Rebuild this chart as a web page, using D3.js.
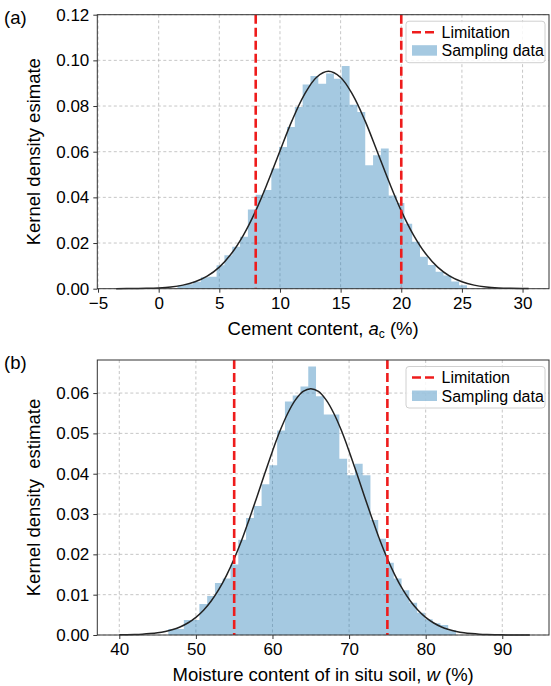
<!DOCTYPE html>
<html>
<head>
<meta charset="utf-8">
<script src="https://cdn.jsdelivr.net/npm/d3@7"></script>
<style>
  body { margin: 0; background: #fff; }
  text { font-family: "Liberation Sans", Arial, sans-serif; fill: #000; }
</style>
</head>
<body>
<svg id="fig" width="551" height="686"></svg>
<script>
// ---------- (a) cement content ----------
const cementBinStart = 1.55;
const cementBinWidth = 0.645;
const cementDensity = [
  0.0015, 0.0020, 0.0030, 0.0050, 0.0052, 0.0103, 0.0146, 0.0184, 0.0228, 0.0347,
  0.0412, 0.0432, 0.0526, 0.0621, 0.0708, 0.0796, 0.0894, 0.0931, 0.0898, 0.0942,
  0.0920, 0.0975, 0.0806, 0.0774, 0.0541, 0.0585, 0.0614, 0.0408, 0.0375, 0.0285,
  0.0206, 0.0140, 0.0104, 0.0074, 0.0058, 0.0031, 0.0015
];
const cementFitX = [-3.5, -2, -1, 0, 1, 2, 3, 4, 5, 6, 7, 8, 9, 10, 11, 12, 13, 14,
  15, 16, 17, 18, 19, 20, 21, 22, 23, 24, 25, 26, 27, 28, 29, 30, 30.5];
const cementFitY = [0.000016, 0.000065, 0.000157, 0.00036, 0.00077, 0.00157, 0.00303,
  0.00551, 0.00947, 0.0154, 0.0236, 0.0341, 0.0467, 0.0603, 0.0737, 0.0849, 0.0925,
  0.0952, 0.0925, 0.0849, 0.0737, 0.0603, 0.0467, 0.0341, 0.0236, 0.0154, 0.00947,
  0.00551, 0.00303, 0.00157, 0.00077, 0.00036, 0.000157, 0.000065, 0.00004];
const cementLimits = [8, 20];
const cementXTicks = [-5, 0, 5, 10, 15, 20, 25, 30];
const cementYTicks = [0, 0.02, 0.04, 0.06, 0.08, 0.10, 0.12];

// ---------- (b) moisture content ----------
const moistureBinStart = 46.4;
const moistureBinWidth = 1.015;
const moistureDensity = [
  0.0015, 0.0015, 0.0037, 0.0037, 0.0077, 0.0097, 0.0129, 0.0140, 0.0175, 0.0236,
  0.0290, 0.0320, 0.0374, 0.0421, 0.0507, 0.0579, 0.0594, 0.0616, 0.0666, 0.0592,
  0.0547, 0.0547, 0.0437, 0.0396, 0.0425, 0.0396, 0.0285, 0.0239, 0.0179, 0.0140,
  0.0111, 0.0080, 0.0055, 0.0039, 0.0029, 0.0025, 0.0012
];
const moistureFitX = [40, 41, 42, 43, 44, 45, 46, 47, 48, 49, 50, 51, 52, 53, 54, 55,
  56, 57, 58, 59, 60, 61, 62, 63, 64, 65, 66, 67, 68, 69, 70, 71, 72, 73, 74, 75, 76,
  77, 78, 79, 80, 81, 82, 83, 84, 85, 86, 87, 88, 89, 90, 91, 92, 93, 93.6];
const moistureFitY = [0.00004, 0.0000716, 0.000124, 0.00021, 0.00035, 0.00056, 0.00089,
  0.00137, 0.00206, 0.00304, 0.00437, 0.00614, 0.00843, 0.0113, 0.0148, 0.0189, 0.0236,
  0.0289, 0.0344, 0.0401, 0.0456, 0.0507, 0.0550, 0.0583, 0.0604, 0.0611, 0.0604, 0.0583,
  0.0550, 0.0507, 0.0456, 0.0401, 0.0344, 0.0289, 0.0236, 0.0189, 0.0148, 0.0113, 0.00843,
  0.00614, 0.00437, 0.00304, 0.00206, 0.00137, 0.00089, 0.00056, 0.00035, 0.00021,
  0.000124, 0.0000716, 0.00004, 0.000022, 0.000012, 0.0000062, 0.000004];
const moistureLimits = [55, 75];
const moistureXTicks = [40, 50, 60, 70, 80, 90];
const moistureYTicks = [0, 0.01, 0.02, 0.03, 0.04, 0.05, 0.06];

const legendLabels = ["Limitation", "Sampling data"];

const svg = d3.select("#fig");

function drawPanel(o) {
  const x = d3.scaleLinear().domain(o.xDomain).range([o.left, o.right]);
  const y = d3.scaleLinear().domain(o.yDomain).range([o.bottom, o.top]);
  const g = svg.append("g");

  // dashed grid
  const grid = g.append("g").attr("stroke", "#b8b8b8").attr("stroke-width", 0.8)
    .attr("stroke-dasharray", "3,2.5");
  grid.selectAll(".gx").data(o.xTicks).join("line")
    .attr("x1", d => x(d)).attr("x2", d => x(d))
    .attr("y1", o.top).attr("y2", o.bottom);
  grid.selectAll(".gy").data(o.yTicks).join("line")
    .attr("x1", o.left).attr("x2", o.right)
    .attr("y1", d => y(d)).attr("y2", d => y(d));

  // histogram: one stepped outline so the translucent fill has no seams
  const steps = o.density.map((v, i) => [o.binStart + i * o.binWidth, v]);
  steps.push([o.binStart + o.density.length * o.binWidth, o.density[o.density.length - 1]]);
  g.append("path").datum(steps)
    .attr("fill", "#1f77b4").attr("fill-opacity", 0.4)
    .attr("d", d3.area().x(d => x(d[0])).y0(y(0)).y1(d => y(d[1])).curve(d3.curveStepAfter));

  // fitted density curve
  const pts = o.fitX.map((xv, i) => [xv, o.fitY[i]]);
  g.append("path").datum(pts)
    .attr("fill", "none").attr("stroke", "#222").attr("stroke-width", 1.5)
    .attr("d", d3.line().x(d => x(d[0])).y(d => y(d[1])).curve(d3.curveCatmullRom));

  // limitation lines
  g.append("g").selectAll("line").data(o.limits).join("line")
    .attr("x1", d => x(d)).attr("x2", d => x(d))
    .attr("y1", o.top).attr("y2", o.bottom)
    .attr("stroke", "#ee1c1c").attr("stroke-width", 2.6)
    .attr("stroke-dasharray", "9,4");

  // axes
  const fmtX = d => (d < 0 ? "\u2212" + Math.abs(d) : String(d));
  const ax = g.append("g").attr("transform", `translate(0,${o.bottom})`)
    .call(d3.axisBottom(x).tickValues(o.xTicks).tickFormat(fmtX).tickSize(4).tickPadding(4));
  const ay = g.append("g").attr("transform", `translate(${o.left},0)`)
    .call(d3.axisLeft(y).tickValues(o.yTicks).tickFormat(d3.format(".2f")).tickSize(4).tickPadding(4));
  [ax, ay].forEach(a => {
    a.select(".domain").remove();
    a.selectAll(".tick line").attr("stroke", "#333");
    a.selectAll(".tick text").attr("font-size", 17).attr("fill", "#000")
      .style("font-family", '"Liberation Sans", Arial, sans-serif');
  });

  // frame
  g.append("rect").attr("x", o.left).attr("y", o.top)
    .attr("width", o.right - o.left).attr("height", o.bottom - o.top)
    .attr("fill", "none").attr("stroke", "#333").attr("stroke-width", 1);

  // axis titles
  const xl = g.append("text").attr("x", (o.left + o.right) / 2).attr("y", o.bottom + 46)
    .attr("text-anchor", "middle").attr("font-size", 18.5);
  o.xLabel(xl);
  g.append("text")
    .attr("transform", `translate(${o.left - 57},${(o.top + o.bottom) / 2}) rotate(-90)`)
    .attr("text-anchor", "middle").attr("font-size", 18.5)
    .attr("xml:space", "preserve")
    .text(o.yLabel);

  // panel tag
  g.append("text").attr("x", 4).attr("y", o.top + 9).attr("font-size", 18.5).text(o.tag);

  // legend
  const lw = 139, lh = 41.5;
  const lx = o.right - 4 - lw, ly = o.top + 6.5;
  const lg = g.append("g");
  lg.append("rect").attr("x", lx).attr("y", ly).attr("width", lw).attr("height", lh)
    .attr("rx", 3).attr("fill", "#fff").attr("fill-opacity", 0.85)
    .attr("stroke", "#d0d0d0").attr("stroke-width", 1);
  lg.append("line").attr("x1", lx + 6).attr("x2", lx + 28)
    .attr("y1", ly + 11).attr("y2", ly + 11)
    .attr("stroke", "#ee1c1c").attr("stroke-width", 2.6).attr("stroke-dasharray", "9,4");
  lg.append("rect").attr("x", lx + 6).attr("y", ly + 24).attr("width", 25).attr("height", 10.5)
    .attr("fill", "#1f77b4").attr("fill-opacity", 0.4);
  lg.append("text").attr("x", lx + 35.5).attr("y", ly + 16.5).attr("font-size", 16).text(legendLabels[0]);
  lg.append("text").attr("x", lx + 35.5).attr("y", ly + 35).attr("font-size", 16).text(legendLabels[1]);
}

drawPanel({
  tag: "(a)",
  left: 97.3, right: 549, top: 14.7, bottom: 288.7,
  xDomain: [-5.06, 32.18], yDomain: [0, 0.12],
  xTicks: cementXTicks, yTicks: cementYTicks,
  binStart: cementBinStart, binWidth: cementBinWidth, density: cementDensity,
  fitX: cementFitX, fitY: cementFitY, limits: cementLimits,
  yLabel: "Kernel density esimate",
  xLabel: t => {
    t.append("tspan").text("Cement content, ");
    t.append("tspan").attr("font-style", "italic").text("a");
    t.append("tspan").attr("font-size", 12).attr("baseline-shift", "-25%").text("c");
    t.append("tspan").text(" (%)");
  }
});

drawPanel({
  tag: "(b)",
  left: 97.3, right: 549, top: 360, bottom: 635,
  xDomain: [37.13, 96.1], yDomain: [0, 0.0682],
  xTicks: moistureXTicks, yTicks: moistureYTicks,
  binStart: moistureBinStart, binWidth: moistureBinWidth, density: moistureDensity,
  fitX: moistureFitX, fitY: moistureFitY, limits: moistureLimits,
  yLabel: "Kernel density  estimate",
  xLabel: t => {
    t.append("tspan").text("Moisture content of in situ soil, ");
    t.append("tspan").attr("font-style", "italic").text("w");
    t.append("tspan").text(" (%)");
  }
});
</script>
</body>
</html>
